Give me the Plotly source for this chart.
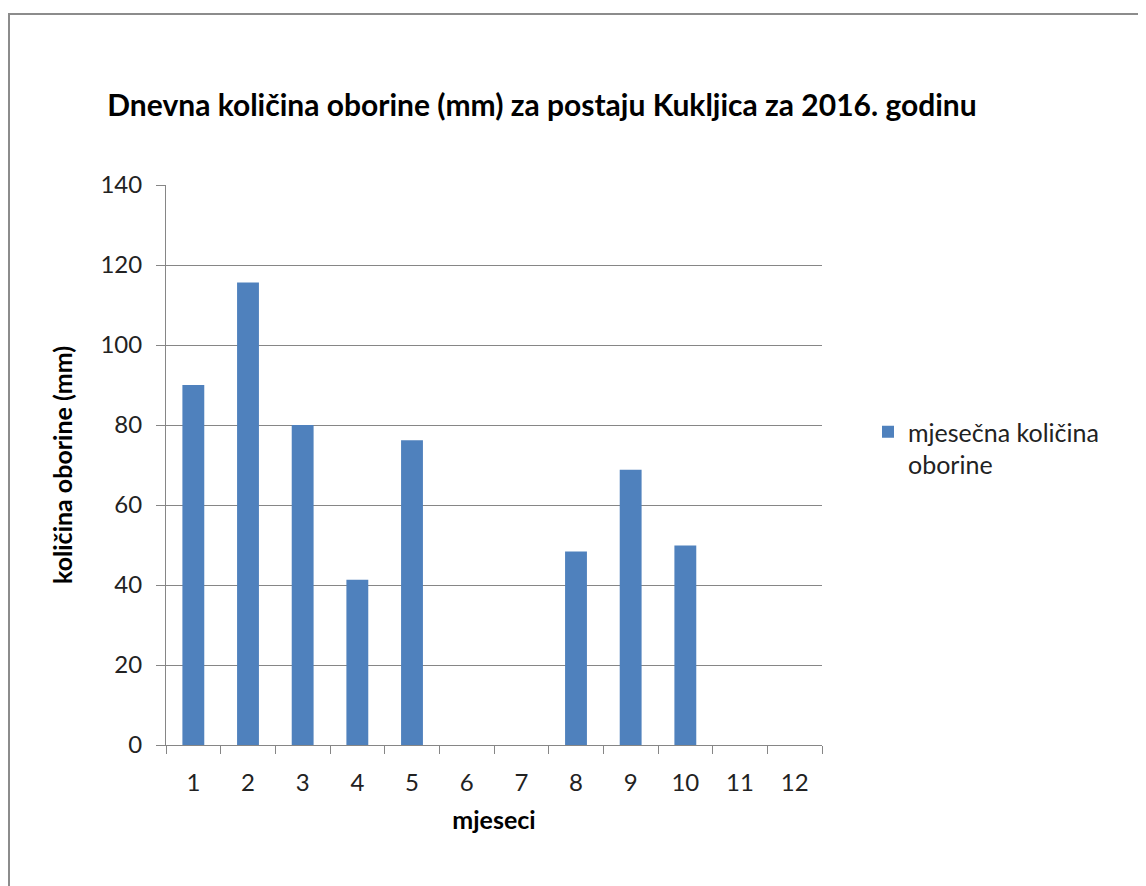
import plotly.graph_objects as go

months = ["1", "2", "3", "4", "5", "6", "7", "8", "9", "10", "11", "12"]
rain = [90.0, 115.6, 80.0, 41.3, 76.2, 0, 0, 48.4, 68.8, 49.9, 0, 0]
y_ticks = [0, 20, 40, 60, 80, 100, 120, 140]

# page has an 8px body margin, so figure coords = screen coords - 8
OFF = 8
W, H = 1146 - OFF, 886 - OFF
L, R, T, B = 166 - OFF, 822 - OFF, 185 - OFF, 745 - OFF
FONT = "Lato"
GRID = "#868686"

fig = go.Figure()
fig.add_trace(go.Bar(
    x=months, y=rain,
    name="mjesečna količina<br>oborine",
    marker=dict(color="#4F81BD", line=dict(width=0)),
    showlegend=True,
))

def px2paper_x(px):
    return (px - OFF - L) / (R - L)

def px2paper_y(py):
    return (B - (py - OFF)) / (B - T)

fig.update_layout(
    width=W, height=H,
    margin=dict(l=L, r=W - R, t=T, b=H - B),
    paper_bgcolor="white", plot_bgcolor="white",
    bargap=0.6,
    font=dict(family=FONT, color="#222222", size=24),
    title=dict(
        text="<b>Dnevna količina oborine (mm) za postaju Kukljica za 2016. godinu</b>",
        x=px2paper_x(542), xref="paper", xanchor="center",
        y=1 - (105 - OFF) / H, yanchor="middle",
        font=dict(family=FONT, size=30, color="#000000"),
    ),
    showlegend=True,
    legend=dict(
        x=px2paper_x(868), y=px2paper_y(409), xanchor="left", yanchor="top",
        valign="top",
        font=dict(family=FONT, size=25, color="#222222"),
        bgcolor="rgba(0,0,0,0)",
    ),
    xaxis=dict(
        type="category",
        showline=True, linecolor=GRID, linewidth=1,
        ticks="outside", tickson="boundaries", ticklen=8, tickcolor=GRID,
        showgrid=False,
        tickfont=dict(family=FONT, size=24, color="#222222"),
        ticklabelstandoff=16,
        title=dict(text="<b>mjeseci</b>", font=dict(family=FONT, size=25, color="#000000"), standoff=16),
    ),
    yaxis=dict(
        range=[0, 140], tickvals=y_ticks,
        showline=True, linecolor=GRID, linewidth=1,
        ticks="outside", ticklen=9, tickcolor=GRID,
        showgrid=True, gridcolor=GRID, gridwidth=1,
        zeroline=False,
        tickfont=dict(family=FONT, size=24, color="#222222"),
        ticklabelstandoff=9,
        title=dict(text="<b>količina oborine (mm)</b>", font=dict(family=FONT, size=25, color="#000000"), standoff=20),
    ),
    shapes=[dict(
        type="rect", xref="paper", yref="paper",
        x0=px2paper_x(9), x1=px2paper_x(1300),
        y0=px2paper_y(1000), y1=px2paper_y(14),
        line=dict(color="#8c8c8c", width=2), fillcolor="rgba(0,0,0,0)", layer="below",
    )],
)

fig.write_html("out.html")
